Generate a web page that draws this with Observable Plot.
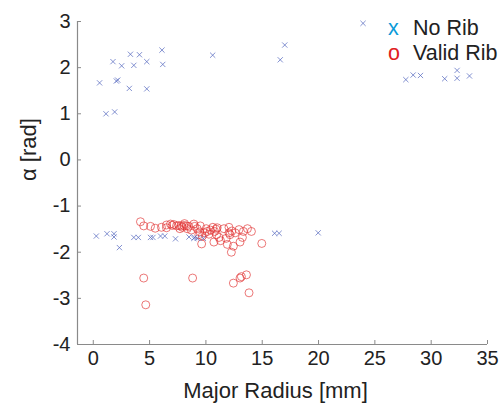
<!DOCTYPE html>
<html>
<head>
<meta charset="utf-8">
<script src="https://cdn.jsdelivr.net/npm/d3@7"></script>
<script src="https://cdn.jsdelivr.net/npm/@observablehq/plot@0.6"></script>
<style>
  html, body { margin: 0; padding: 0; background: #fff; }
  #wrap { position: relative; width: 504px; height: 410px; font-family: "Liberation Sans", Arial, sans-serif; }
  #legend { position: absolute; left: 388px; top: 16px; font-size: 21.5px; line-height: 25px; color: #222; }
  #legend .sym { display: inline-block; width: 25px; }
</style>
</head>
<body>
<div id="wrap"></div>
<script>
// No Rib (blue x markers)
const noRibX = [0.56, 1.13, 1.9, 1.75, 2.52, 2.05, 2.17, 3.3, 4.1, 3.6, 3.2, 4.75, 4.75, 6.1, 6.17, 10.6,
  23.95, 17.0, 16.6, 27.75, 28.4, 29.05, 31.2, 32.3, 32.3, 33.4,
  0.27, 1.22, 1.84, 1.84, 2.32, 3.6, 4.0, 5.08, 5.3, 5.97, 6.35, 7.3, 8.5, 8.93, 9.23, 9.77, 9.0,
  16.1, 16.5, 19.97];
const noRibY = [1.67, 1.0, 1.04, 2.13, 2.04, 1.71, 1.73, 2.29, 2.28, 2.05, 1.55, 2.13, 1.54, 2.38, 2.07, 2.27,
  2.96, 2.49, 2.17, 1.74, 1.84, 1.83, 1.76, 1.94, 1.77, 1.82,
  -1.65, -1.60, -1.60, -1.67, -1.90, -1.68, -1.68, -1.68, -1.68, -1.65, -1.65, -1.71, -1.67, -1.70, -1.70, -1.70, -1.68,
  -1.59, -1.59, -1.58];

// Valid Rib (red circles)
const validX = [4.19, 4.48, 5.08, 6.05, 6.5, 6.5, 6.86, 7.15, 7.39, 7.6, 7.81, 8.04, 8.28, 8.49, 7.69, 8.34,
  8.93, 9.23, 9.47, 9.38, 9.68, 9.62, 10.03, 10.12, 10.27, 10.62, 10.77, 10.95, 10.71, 11.16, 11.3,
  11.6, 12.05, 12.05, 12.14, 11.9, 12.26, 12.44, 12.94, 13.24, 13.03, 13.33, 13.69, 14.04, 14.96,
  4.48, 4.66, 8.82, 12.44, 13.03, 13.15, 13.6, 13.83,
  5.5, 7.0, 7.9, 8.7, 9.0, 9.9, 10.4, 11.0, 11.8, 12.6, 8.1, 9.5, 10.9, 12.3];
const validY = [-1.34, -1.43, -1.44, -1.46, -1.41, -1.47, -1.39, -1.40, -1.43, -1.42, -1.43, -1.42, -1.43, -1.44, -1.49, -1.49,
  -1.39, -1.49, -1.56, -1.62, -1.65, -1.82, -1.49, -1.55, -1.61, -1.46, -1.55, -1.62, -1.78, -1.68, -1.75,
  -1.49, -1.46, -1.58, -1.62, -1.83, -2.0, -1.87, -1.51, -1.68, -1.78, -1.55, -1.49, -1.55, -1.81,
  -2.56, -3.14, -2.56, -2.67, -2.56, -2.53, -2.49, -2.88,
  -1.48, -1.42, -1.46, -1.52, -1.44, -1.58, -1.52, -1.47, -1.70, -1.58, -1.38, -1.43, -1.50, -1.54];

const xTicks = [0, 5, 10, 15, 20, 25, 30, 35];
const yTicks = [-4, -3, -2, -1, 0, 1, 2, 3];
const xLabel = "Major Radius [mm]";
const yLabel = "α [rad]";
const seriesNames = ["No Rib", "Valid Rib"];

const noRib = noRibX.map((x, i) => ({x, y: noRibY[i]}));
const valid = validX.map((x, i) => ({x, y: validY[i]}));

const axisColor = "#8a8a8a";
const fmt = d => String(d);
const chart = Plot.plot({
  width: 504,
  height: 410,
  marginLeft: 77,
  marginRight: 17,
  marginTop: 21,
  marginBottom: 66,
  style: {fontFamily: "Liberation Sans, Arial, sans-serif", fontSize: "20px", color: "#222", background: "#fff"},
  x: {domain: [-1.4, 35]},
  y: {domain: [-4, 3]},
  marks: [
    Plot.ruleY([-4], {stroke: axisColor, strokeWidth: 1.2}),
    Plot.ruleX([-1.4], {stroke: axisColor, strokeWidth: 1.2}),
    Plot.axisX({ticks: xTicks, tickFormat: fmt, tickSize: -4, tickPadding: 10, stroke: axisColor, fill: "#222", fontSize: 20, label: null}),
    Plot.axisY({ticks: yTicks, tickFormat: fmt, tickSize: -4, tickPadding: 11, stroke: axisColor, fill: "#222", fontSize: 20, label: null}),
    Plot.text([xLabel], {frameAnchor: "bottom", text: d => d, dx: -7, dy: 46, lineAnchor: "middle", fontSize: 22, fill: "#222"}),
    Plot.text([yLabel], {frameAnchor: "left", text: d => d, dx: -49, dy: -2, rotate: -90, lineAnchor: "middle", fontSize: 22, fill: "#222"}),
    Plot.dot(valid, {x: "x", y: "y", r: 4, stroke: "#e03030", strokeOpacity: 0.65, strokeWidth: 1, fill: "none"}),
    Plot.dot(noRib, {x: "x", y: "y", symbol: "times", r: 2.5, stroke: "#5a6cc0", strokeOpacity: 0.75, strokeWidth: 1})
  ]
});
const wrap = document.getElementById("wrap");
wrap.appendChild(chart);
const legend = document.createElement("div");
legend.id = "legend";
legend.innerHTML =
  `<div><span class="sym" style="color:#0a9ad8">x</span>${seriesNames[0]}</div>` +
  `<div><span class="sym" style="color:#e02020">o</span>${seriesNames[1]}</div>`;
wrap.appendChild(legend);
</script>
</body>
</html>
